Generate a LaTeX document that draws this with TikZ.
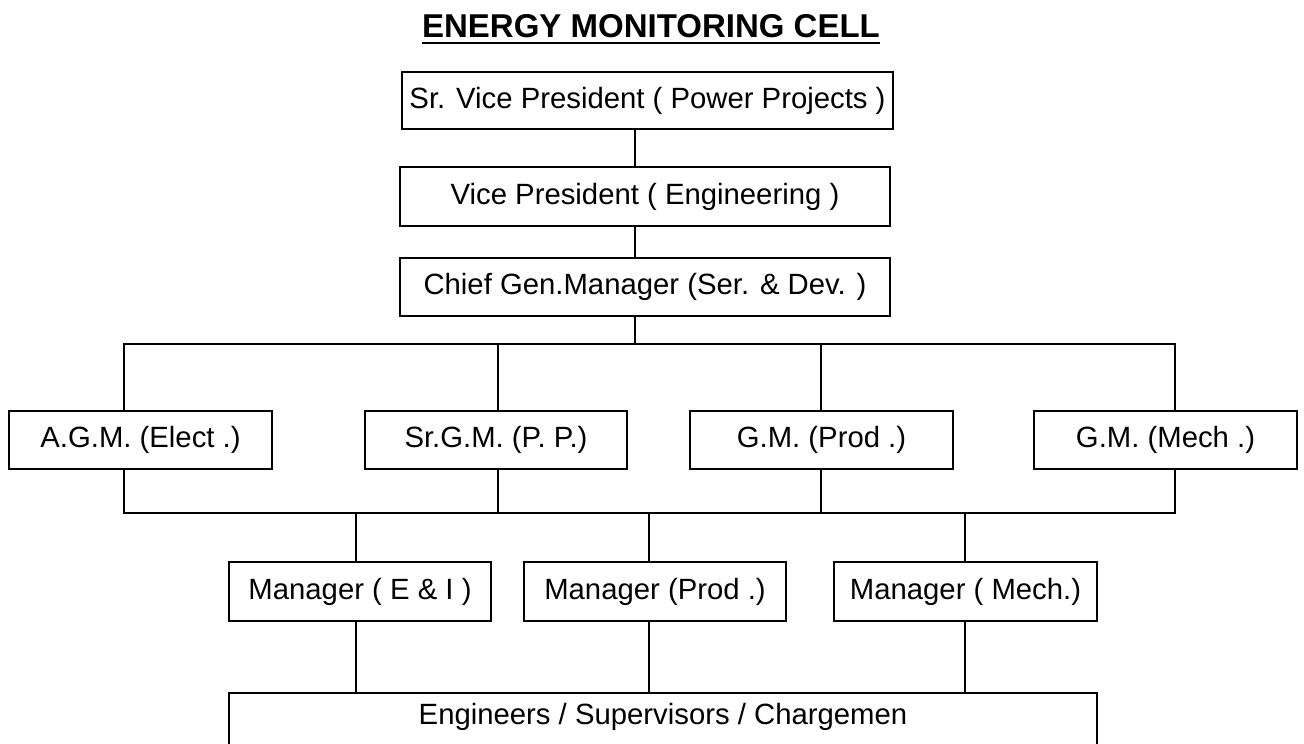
\documentclass[tikz,border=0pt]{standalone}
\usepackage{fontspec}
\setmainfont{Liberation Sans}
\begin{document}
\begin{tikzpicture}[x=1pt,y=-1pt,
  box/.style={draw, line width=2pt, inner sep=0pt, font=\fontsize{29.3}{35}\selectfont},
  conn/.style={line width=2pt}]
\useasboundingbox (0,0) rectangle (1304,744);
% title
\node[inner sep=0pt, anchor=base, font=\fontsize{33}{39}\selectfont\bfseries] (title) at (651,37) {ENERGY MONITORING CELL};
\draw[line width=2.2pt] ([yshift=-6pt]title.base west) -- ([yshift=-6pt]title.base east);
% top chain
\node[box, minimum width=491pt, minimum height=57pt] (b1) at (647.5,100.5) {Sr. Vice President ( Power Projects )};
\node[box, minimum width=490pt, minimum height=59pt] (b2) at (645,196.5) {Vice President ( Engineering )};
\node[box, minimum width=490pt, minimum height=58pt] (b3) at (645,287) {Chief Gen.Manager (Ser. \& Dev. )};
% second row
\node[box, minimum width=263pt, minimum height=58pt] (agm) at (140.5,440) {A.G.M. (Elect .)};
\node[box, minimum width=262pt, minimum height=58pt] (sgm) at (496,440) {Sr.G.M. (P. P.)};
\node[box, minimum width=263pt, minimum height=58pt] (gmp) at (821.5,440) {G.M. (Prod .)};
\node[box, minimum width=263pt, minimum height=58pt] (gmm) at (1165.5,440) {G.M. (Mech .)};
% managers
\node[box, minimum width=262pt, minimum height=59pt] (m1) at (360,591.5) {Manager ( E \& I )};
\node[box, minimum width=262pt, minimum height=59pt] (m2) at (655,591.5) {Manager (Prod .)};
\node[box, minimum width=263pt, minimum height=59pt] (m3) at (965.5,591.5) {Manager ( Mech.)};
% bottom
\node[box, anchor=north, minimum width=868pt, text height=31pt, text depth=29pt] (eng) at (663,692) {Engineers / Supervisors / Chargemen};
% helper coordinates
\coordinate (spine) at (635,0);
\coordinate (x1) at (124,0);
\coordinate (x2) at (498,0);
\coordinate (x3) at (821,0);
\coordinate (x4) at (1175,0);
\coordinate (y1) at (0,344);
\coordinate (y2) at (0,513);
\coordinate (mx1) at (356,0);
\coordinate (mx2) at (649,0);
\coordinate (mx3) at (965,0);
% connectors
\draw[conn] (b1.south -| spine) -- (b2.north -| spine);
\draw[conn] (b2.south -| spine) -- (b3.north -| spine);
\draw[conn] (b3.south -| spine) -- (spine |- y1);
\draw[conn] (x1 |- agm.north) -- (x1 |- y1) -- (x4 |- y1) -- (x4 |- gmm.north);
\draw[conn] (x2 |- y1) -- (x2 |- sgm.north);
\draw[conn] (x3 |- y1) -- (x3 |- gmp.north);
\draw[conn] (x1 |- agm.south) -- (x1 |- y2) -- (x4 |- y2) -- (x4 |- gmm.south);
\draw[conn] (x2 |- sgm.south) -- (x2 |- y2);
\draw[conn] (x3 |- gmp.south) -- (x3 |- y2);
\draw[conn] (mx1 |- y2) -- (mx1 |- m1.north);
\draw[conn] (mx2 |- y2) -- (mx2 |- m2.north);
\draw[conn] (mx3 |- y2) -- (mx3 |- m3.north);
\draw[conn] (mx1 |- m1.south) -- (mx1 |- eng.north);
\draw[conn] (mx2 |- m2.south) -- (mx2 |- eng.north);
\draw[conn] (mx3 |- m3.south) -- (mx3 |- eng.north);
\end{tikzpicture}
\end{document}
